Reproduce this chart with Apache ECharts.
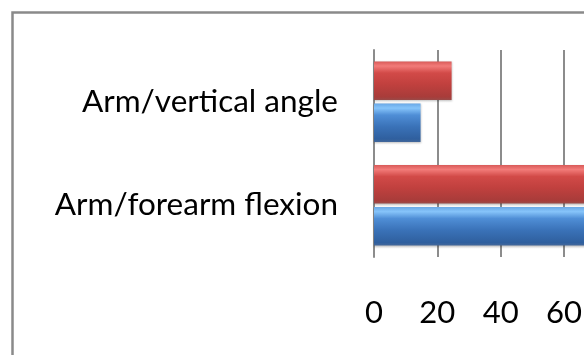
<!DOCTYPE html>
<html>
<head>
<meta charset="utf-8">
<script src="https://cdn.jsdelivr.net/npm/echarts@6/dist/echarts.min.js"></script>
<style>
html,body{margin:0;padding:0;background:#fff;}
#chart{width:584px;height:355px;}
</style>
</head>
<body>
<div id="chart"></div>
<script>
// Data (bottom-to-top category order, as ECharts draws a y category axis)
const categories = ['Arm/forearm flexion', 'Arm/vertical angle'];
const seriesBlue = [95, 14.7];   // lower bar in each group
const seriesRed = [90, 24.5];    // upper bar in each group
const xTicks = [0, 20, 40, 60, 80, 100];

const chart = echarts.init(document.getElementById('chart'), null, {renderer: 'canvas'});

function grad(stops) {
  return new echarts.graphic.LinearGradient(0, 0, 0, 1, stops.map((c) => ({offset: c[0], color: c[1]})));
}
const redFill = grad([[0, '#d85a58'], [0.12, '#f27b79'], [0.3, '#d24a48'], [0.6, '#c0403e'], [0.92, '#a83c3a'], [1, '#9a4a48']]);
const blueFill = grad([[0, '#6aa8e6'], [0.12, '#86c4fa'], [0.3, '#4f8ed6'], [0.6, '#3a72b8'], [0.92, '#2f5f9e'], [1, '#44689a']]);

const option = {
  animation: false,
  backgroundColor: '#fff',
  textStyle: {fontFamily: 'Lato'},
  grid: {left: 374, top: 50, width: 316.7, height: 207, containLabel: false, outerBoundsMode: 'none'},
  xAxis: {
    type: 'value', min: xTicks[0], max: xTicks[xTicks.length - 1], interval: 20,
    axisLine: {show: false}, axisTick: {show: false},
    splitLine: {show: true, lineStyle: {color: '#8c8c8c', width: 2}},
    axisLabel: {color: '#000', fontSize: 31, fontFamily: 'Lato', margin: 40}
  },
  yAxis: {
    type: 'category', data: categories,
    axisLine: {show: true, lineStyle: {color: '#8c8c8c', width: 2}},
    axisTick: {show: false},
    axisLabel: {color: '#000', fontSize: 31.5, fontFamily: 'Lato', margin: 36}
  },
  graphic: [{
    type: 'rect', z: -10, silent: true,
    shape: {x: 12.5, y: 12.5, width: 700, height: 500},
    style: {fill: 'none', stroke: '#8a8a8a', lineWidth: 2.5}
  }],
  series: [
    {type: 'bar', name: 'R', data: seriesRed, barGap: '9%', barCategoryGap: '22%',
      itemStyle: {color: redFill, shadowColor: 'rgba(0,0,0,0.25)', shadowBlur: 2, shadowOffsetY: 1}},
    {type: 'bar', name: 'B', data: seriesBlue, barGap: '9%', barCategoryGap: '22%',
      itemStyle: {color: blueFill, shadowColor: 'rgba(0,0,0,0.25)', shadowBlur: 2, shadowOffsetY: 1}}
  ]
};
chart.setOption(option);
</script>
</body>
</html>
